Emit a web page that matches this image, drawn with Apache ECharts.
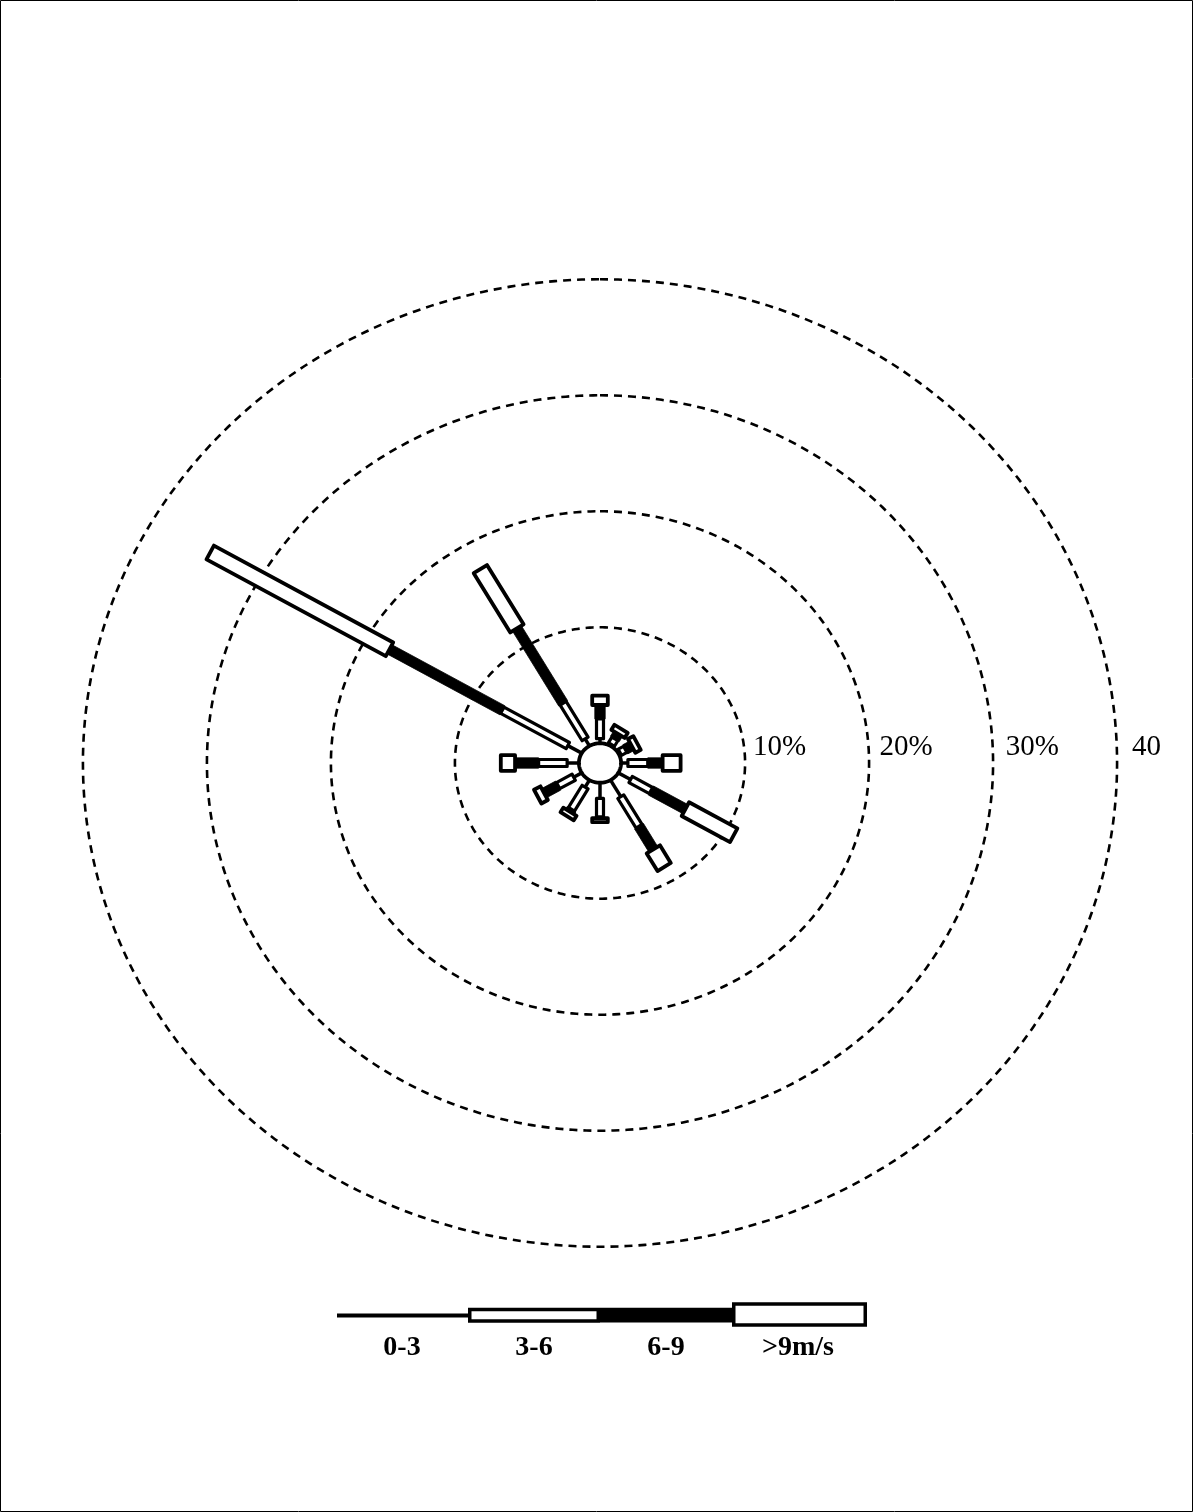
<!DOCTYPE html>
<html>
<head>
<meta charset="utf-8">
<script src="https://cdn.jsdelivr.net/npm/echarts@6/dist/echarts.min.js"></script>
<style>
html,body{margin:0;padding:0;background:#fff;}
#chart{width:1193px;height:1512px;}
</style>
</head>
<body>
<div id="chart"></div>
<script>
// ---- data (percent frequency per direction and wind-speed class) ----
const directionNames  = ['N','NNE','ENE','E','ESE','SSE','S','SSW','WSW','W','WNW','NNW'];
const directionAngles = [0, 30, 60, 90, 120, 150, 180, 210, 240, 270, 300, 330];
const speed0to3 = [0.40, 0.15, 0.15, 0.55, 1.15, 1.65, 1.35, 0.70, 0.75, 0.95, 1.30, 0.70];
const speed3to6 = [1.70, 0.55, 0.50, 1.60, 1.90, 2.95, 1.60, 2.20, 1.45, 2.30, 6.10, 3.55];
const speed6to9 = [1.20, 0.50, 0.60, 1.20, 3.20, 2.30, 0.10, 0.25, 1.30, 1.90, 10.50, 7.45];
const speedOver9 = [0.80, 0.50, 0.50, 1.45, 4.50, 1.75, 0.35, 0.45, 0.60, 1.15, 16.70, 5.90];
const calmPct = 1.7;
const ringPcts = [10, 20, 30, 40];
const ringLabels = ['10%', '20%', '30%', '40'];
const legendLabels = ['0-3', '3-6', '6-9', '>9m/s'];

// ---- layout ----
const CX = 600, CY = 763, SX = 12.4, SY = 11.6, AX = 44;
const chart = echarts.init(document.getElementById('chart'), null, {renderer: 'canvas'});

function dirPoint(api, angleDeg, pct) {
  const a = angleDeg * Math.PI / 180;
  const r = calmPct + pct;
  return api.coord([r * Math.sin(a), r * Math.cos(a)]);
}

function band(p0, p1, n, hw, style) {
  return {
    type: 'polygon',
    shape: {points: [
      [p0[0] + n[0] * hw, p0[1] + n[1] * hw],
      [p1[0] + n[0] * hw, p1[1] + n[1] * hw],
      [p1[0] - n[0] * hw, p1[1] - n[1] * hw],
      [p0[0] - n[0] * hw, p0[1] - n[1] * hw]
    ]},
    style: style
  };
}

const barData = directionAngles.map((a, i) => [a, speed0to3[i], speed3to6[i], speed6to9[i], speedOver9[i]]);

const option = {
  backgroundColor: '#fff',
  animation: false,
  grid: {left: CX - AX * SX, top: CY - AX * SY, width: 2 * AX * SX, height: 2 * AX * SY, containLabel: false},
  xAxis: {type: 'value', min: -AX, max: AX, show: false},
  yAxis: {type: 'value', min: -AX, max: AX, show: false},
  series: [
    {
      type: 'custom',
      coordinateSystem: 'cartesian2d',
      data: ringPcts.map((p, i) => [p, i]),
      z: 1,
      renderItem: function (params, api) {
        const p = api.value(0);
        const idx = api.value(1);
        const pts = [];
        for (let d = 0; d <= 360; d += 1) {
          pts.push(dirPoint(api, d, p));
        }
        const right = dirPoint(api, 90, p);
        return {
          type: 'group',
          children: [
            {type: 'polyline', shape: {points: pts},
             style: {stroke: '#000', lineWidth: 2.6, lineDash: [8, 6], fill: null}},
            {type: 'text', x: right[0] + 8 + idx * 2.3, y: right[1] - 16,
             style: {text: ringLabels[idx], font: '29px "Liberation Serif", "Times New Roman", serif',
                     fill: '#000', align: 'left', verticalAlign: 'middle'}}
          ]
        };
      }
    },
    {
      type: 'custom',
      coordinateSystem: 'cartesian2d',
      data: barData,
      z: 2,
      renderItem: function (params, api) {
        const ang = api.value(0);
        const s0 = api.value(1), s1 = api.value(2), s2 = api.value(3), s3 = api.value(4);
        const c1 = s0, c2 = s0 + s1, c3 = c2 + s2, c4 = c3 + s3;
        const p0 = dirPoint(api, ang, 0);
        const p1 = dirPoint(api, ang, c1);
        const p2 = dirPoint(api, ang, c2);
        const p3 = dirPoint(api, ang, c3);
        const p4 = dirPoint(api, ang, c4);
        let dx = p4[0] - p0[0], dy = p4[1] - p0[1];
        const L = Math.sqrt(dx * dx + dy * dy) || 1;
        dx /= L; dy /= L;
        const n = [-dy, dx];
        const children = [];
        children.push({type: 'line', shape: {x1: p0[0], y1: p0[1], x2: p1[0], y2: p1[1]},
                       style: {stroke: '#000', lineWidth: 3.5}});
        if (s1 > 0) children.push(band(p1, p2, n, 3.5, {fill: '#fff', stroke: '#000', lineWidth: 3.2, lineJoin: 'round'}));
        if (s2 > 0) children.push(band(p2, p3, n, 5.2, {fill: '#000', stroke: '#000', lineWidth: 0.8}));
        if (s3 > 0) children.push(band(p3, p4, n, 7.8, {fill: '#fff', stroke: '#000', lineWidth: 3.8, lineJoin: 'round'}));
        return {type: 'group', children: children};
      }
    },
    {
      type: 'custom',
      coordinateSystem: 'cartesian2d',
      data: [[0, 0]],
      z: 3,
      renderItem: function (params, api) {
        const pts = [];
        for (let d = 0; d < 360; d += 2) pts.push(dirPoint(api, d, 0));
        return {type: 'polygon', shape: {points: pts},
                style: {fill: '#fff', stroke: '#000', lineWidth: 3.8}};
      }
    }
  ],
  graphic: [
    {type: 'rect', shape: {x: 0.5, y: 0.5, width: 1192, height: 1511},
     style: {fill: null, stroke: '#000', lineWidth: 1}},
    {type: 'line', shape: {x1: 337, y1: 1315.5, x2: 468, y2: 1315.5},
     style: {stroke: '#000', lineWidth: 4}},
    {type: 'rect', shape: {x: 469.75, y: 1309.5, width: 128.5, height: 11.5},
     style: {fill: '#fff', stroke: '#000', lineWidth: 3.5}},
    {type: 'rect', shape: {x: 600, y: 1307.8, width: 132, height: 14.6},
     style: {fill: '#000'}},
    {type: 'rect', shape: {x: 733.75, y: 1304, width: 131.5, height: 21},
     style: {fill: '#fff', stroke: '#000', lineWidth: 3.5}},
    ...legendLabels.map((t, i) => ({
      type: 'text', x: 402 + i * 132, y: 1348,
      style: {text: t, font: 'bold 28px "Liberation Serif", "Times New Roman", serif',
              fill: '#000', align: 'center', verticalAlign: 'middle'}
    }))
  ]
};
chart.setOption(option);
</script>
</body>
</html>
